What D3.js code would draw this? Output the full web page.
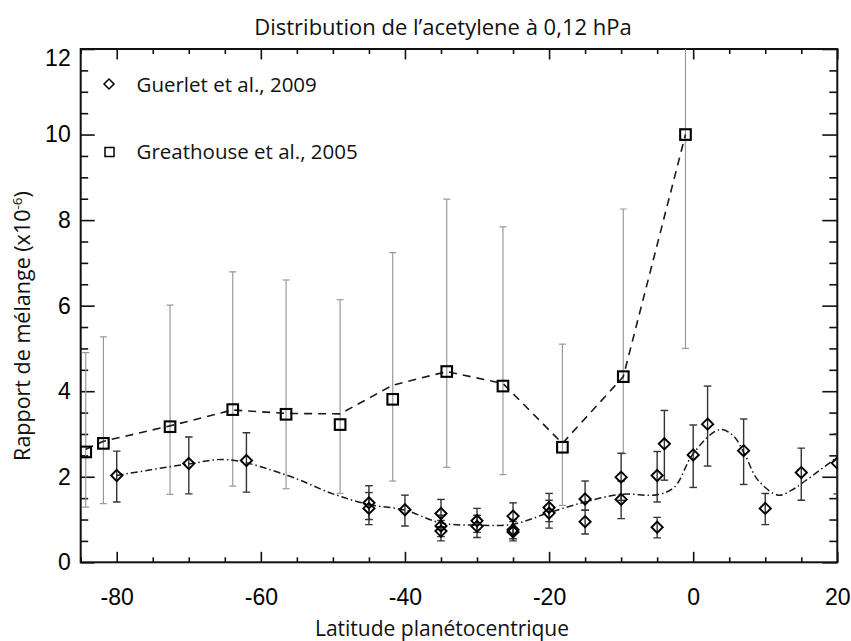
<!DOCTYPE html>
<html>
<head>
<meta charset="utf-8">
<script src="https://cdn.jsdelivr.net/npm/d3@7/dist/d3.min.js"></script>
<style>
  html, body { margin: 0; padding: 0; background: #fff; }
  svg { display: block; }
</style>
</head>
<body>
<svg id="chart" width="851" height="641"></svg>
<script>
// Guerlet et al. (2009): latitude, mixing ratio (x1e-6) and error bar bounds
const guerletLat = [-80, -70, -62, -45, -45, -40, -35, -35, -35, -30, -30, -25, -25, -25,
                    -20, -20, -15, -15, -10, -10, -5, -5, -4, 0, 2, 7, 10, 15, 20];
const guerletVal = [2.03, 2.31, 2.38, 1.39, 1.26, 1.23, 1.14, 0.85, 0.73, 0.97, 0.84, 1.08, 0.76, 0.71,
                    1.28, 1.15, 1.48, 0.95, 1.99, 1.47, 2.03, 0.82, 2.77, 2.51, 3.23, 2.61, 1.26, 2.10, 2.32];
const guerletLo  = [1.41, 1.60, 1.64, 1.00, 0.88, 0.85, 0.83, 0.60, 0.50, 0.70, 0.58, 0.80, 0.55, 0.50,
                    0.95, 0.80, 1.22, 0.66, 1.45, 1.02, 1.41, 0.57, 1.92, 1.75, 2.25, 1.82, 0.88, 1.45, 1.60];
const guerletHi  = [2.60, 2.93, 3.03, 1.79, 1.63, 1.57, 1.47, 1.10, 0.98, 1.26, 1.10, 1.39, 1.00, 0.95,
                    1.61, 1.45, 1.90, 1.22, 2.55, 1.90, 2.59, 1.05, 3.55, 3.21, 4.12, 3.35, 1.61, 2.67, 3.00];

// Smooth latitudinal fit through the Guerlet retrievals (dash-dot curve)
const guerletFitLat = [-80, -70, -64.6, -56.3, -50, -45, -40, -35, -30, -25, -20, -15, -10, -5,
                       -2.6, 0, 3.6, 5.5, 7.1, 9, 11.8, 13.6, 15.2, 20];
const guerletFitVal = [2.03, 2.30, 2.40, 2.03, 1.60, 1.35, 1.22, 0.92, 0.87, 0.89, 1.16, 1.41, 1.59, 1.58,
                       1.76, 2.54, 3.10, 2.97, 2.54, 1.92, 1.57, 1.68, 1.86, 2.46];

// Greathouse et al. (2005)
const greathouseLat = [-84.3, -81.85, -72.6, -63.9, -56.5, -49.0, -41.7, -34.2, -26.4, -18.15, -9.7, -1.07];
const greathouseVal = [2.58, 2.78, 3.17, 3.57, 3.46, 3.22, 3.81, 4.46, 4.12, 2.69, 4.34, 10.0];
const greathouseLo  = [1.29, 1.37, 1.59, 1.78, 1.72, 1.61, 1.90, 2.22, 2.05, 1.33, 2.54, 5.0];
const greathouseHi  = [4.90, 5.27, 6.01, 6.79, 6.60, 6.14, 7.24, 8.49, 7.84, 5.10, 8.26, 15.0];
// Trend drawn through the Greathouse points (dashed line)
const greathouseTrend = [2.64, 2.83, 3.19, 3.56, 3.48, 3.47, 4.14, 4.46, 4.18, 2.78, 4.34, 10.0];

// Axis ticks
const xMajor = [-80, -60, -40, -20, 0, 20];
const xMinor = [-85, -75, -70, -65, -55, -50, -45, -35, -30, -25, -15, -10, -5, 5, 10, 15];
const yMajor = [0, 2, 4, 6, 8, 10, 12];
const yMinor = d3.range(0.5, 12, 0.5).filter(v => v % 2 !== 0);

const titleText = "Distribution de l\u2019acetylene \u00e0 0,12 hPa";
const xTitle = "Latitude plan\u00e9tocentrique";
const legendLabels = ["Guerlet et al., 2009", "Greathouse et al., 2005"];

const svg = d3.select("#chart");
const L = 80.7, R = 837.3, T = 49, B = 562.3;
const x = d3.scaleLinear().domain([-85, 20]).range([L, R]);
const y = d3.scaleLinear().domain([0, 12]).range([B, T]);

const textFont = "'Open Sans', 'Noto Sans', sans-serif";
const numFont = "'Liberation Sans', Arial, sans-serif";
const plainNumber = d => String(d); // ASCII hyphen for negatives

// Clip region for the data
svg.append("defs").append("clipPath").attr("id", "plotClip")
  .append("rect").attr("x", L).attr("y", T).attr("width", R - L).attr("height", B - T);

// Axes (ticks point inward)
function styleAxis(g) {
  g.select(".domain").remove();
  g.selectAll(".tick line").attr("stroke", "#111").attr("stroke-width", 1.6);
}
svg.append("g").attr("transform", `translate(0,${B})`)
  .call(d3.axisBottom(x).tickValues(xMajor).tickSize(-10.5).tickPadding(26.5).tickFormat(plainNumber))
  .call(styleAxis)
  .call(g => g.selectAll("text").attr("font-family", numFont).attr("font-size", 23).attr("fill", "#000"));
svg.append("g").attr("transform", `translate(0,${B})`)
  .call(d3.axisBottom(x).tickValues(xMinor).tickSize(-5).tickFormat(""))
  .call(styleAxis);
svg.append("g").attr("transform", `translate(0,${T})`)
  .call(d3.axisTop(x).tickValues(xMajor).tickSize(-10.5).tickFormat(""))
  .call(styleAxis);
svg.append("g").attr("transform", `translate(0,${T})`)
  .call(d3.axisTop(x).tickValues(xMinor).tickSize(-5).tickFormat(""))
  .call(styleAxis);

svg.append("g").attr("transform", `translate(${L},0)`)
  .call(d3.axisLeft(y).tickValues(yMajor).tickSize(-14).tickPadding(10).tickFormat(plainNumber))
  .call(styleAxis)
  .call(g => g.selectAll("text").attr("font-family", numFont).attr("font-size", 23).attr("fill", "#000"))
  .call(g => g.selectAll(".tick text").filter(d => d === 12).attr("dy", "0.72em"));
svg.append("g").attr("transform", `translate(${L},0)`)
  .call(d3.axisLeft(y).tickValues(yMinor).tickSize(-7.5).tickFormat(""))
  .call(styleAxis);
svg.append("g").attr("transform", `translate(${R},0)`)
  .call(d3.axisRight(y).tickValues(yMajor).tickSize(-15).tickFormat(""))
  .call(styleAxis);
svg.append("g").attr("transform", `translate(${R},0)`)
  .call(d3.axisRight(y).tickValues(yMinor).tickSize(-8).tickFormat(""))
  .call(styleAxis);

// Frame
svg.append("rect").attr("x", L).attr("y", T).attr("width", R - L).attr("height", B - T)
  .attr("fill", "none").attr("stroke", "#111").attr("stroke-width", 2);

const plot = svg.append("g").attr("clip-path", "url(#plotClip)");

// Error bars
function errorBars(lat, lo, hi, color, width, cap) {
  const g = plot.append("g").attr("stroke", color).attr("stroke-width", width).attr("fill", "none");
  lat.forEach((la, i) => {
    const cx = x(la);
    g.append("line").attr("x1", cx).attr("x2", cx).attr("y1", y(lo[i])).attr("y2", y(hi[i]));
    g.append("line").attr("x1", cx - cap).attr("x2", cx + cap).attr("y1", y(lo[i])).attr("y2", y(lo[i]));
    g.append("line").attr("x1", cx - cap).attr("x2", cx + cap).attr("y1", y(hi[i])).attr("y2", y(hi[i]));
  });
}
errorBars(greathouseLat, greathouseLo, greathouseHi, "#9a9a9a", 1.2, 3.5);
errorBars(guerletLat, guerletLo, guerletHi, "#333", 1.4, 3.8);

// Trend lines
plot.append("path")
  .datum(greathouseLat.map((la, i) => [la, greathouseTrend[i]]))
  .attr("d", d3.line().x(d => x(d[0])).y(d => y(d[1])).curve(d3.curveLinear))
  .attr("fill", "none").attr("stroke", "#1a1a1a").attr("stroke-width", 1.6)
  .attr("stroke-dasharray", "8,6");
plot.append("path")
  .datum(guerletFitLat.map((la, i) => [la, guerletFitVal[i]]))
  .attr("d", d3.line().x(d => x(d[0])).y(d => y(d[1])).curve(d3.curveCatmullRom.alpha(0.5)))
  .attr("fill", "none").attr("stroke", "#1a1a1a").attr("stroke-width", 1.5)
  .attr("stroke-dasharray", "7,3,1.5,3");

// Markers
const diamondPath = (cx, cy, r) => `M${cx},${cy - r}L${cx + r},${cy}L${cx},${cy + r}L${cx - r},${cy}Z`;
plot.append("g").selectAll("path")
  .data(guerletLat.map((la, i) => [la, guerletVal[i]]))
  .join("path")
  .attr("d", d => diamondPath(x(d[0]), y(d[1]), 5.6))
  .attr("fill", "none").attr("stroke", "#000").attr("stroke-width", 1.9);
plot.append("g").selectAll("rect")
  .data(greathouseLat.map((la, i) => [la, greathouseVal[i]]))
  .join("rect")
  .attr("x", d => x(d[0]) - 5.3).attr("y", d => y(d[1]) - 5.3)
  .attr("width", 10.6).attr("height", 10.6)
  .attr("fill", "none").attr("stroke", "#000").attr("stroke-width", 2.1);

// Legend
const legend = svg.append("g");
legend.append("path").attr("d", diamondPath(109, 84, 5))
  .attr("fill", "none").attr("stroke", "#000").attr("stroke-width", 1.5);
legend.append("rect").attr("x", 105).attr("y", 147.5).attr("width", 9).attr("height", 9)
  .attr("fill", "none").attr("stroke", "#000").attr("stroke-width", 1.5);
legend.selectAll("text").data(legendLabels).join("text")
  .attr("x", 136.5).attr("y", (d, i) => [91.5, 159][i])
  .attr("font-family", textFont).attr("font-size", 20.5).attr("fill", "#111")
  .text(d => d);

// Titles
svg.append("text").attr("x", 443).attr("y", 35).attr("text-anchor", "middle")
  .attr("font-family", textFont).attr("font-size", 22).attr("fill", "#111")
  .text(titleText);
svg.append("text").attr("x", 442).attr("y", 636).attr("text-anchor", "middle")
  .attr("font-family", textFont).attr("font-size", 21).attr("fill", "#111")
  .text(xTitle);
const yt = svg.append("text")
  .attr("transform", "translate(30,326) rotate(-90)")
  .attr("text-anchor", "middle")
  .attr("font-family", textFont).attr("font-size", 21.5).attr("fill", "#111");
yt.append("tspan").text("Rapport de m\u00e9lange (x10");
yt.append("tspan").attr("font-size", 13.5).attr("dy", -8).text("-6");
yt.append("tspan").attr("dy", 8).text(")");
</script>
</body>
</html>
